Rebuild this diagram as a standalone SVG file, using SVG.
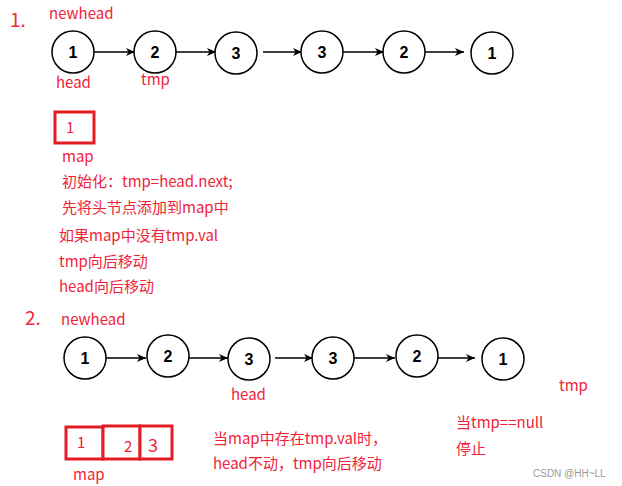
<svg xmlns="http://www.w3.org/2000/svg" width="622" height="486" viewBox="0 0 622 486">
<style>
.node circle{fill:#fff;stroke:#000;stroke-width:1.5}
.node text{font-family:"Liberation Sans",Arial,sans-serif;font-weight:bold;font-size:16px;fill:#000;text-anchor:middle}
.edge{stroke:#000;stroke-width:1.3;fill:none;marker-end:url(#arr)}
.lbl{font-family:"Noto Sans CJK SC","Microsoft YaHei",sans-serif;font-size:15px;fill:#f0223a}
.num{font-family:"Noto Sans CJK SC",sans-serif;font-size:19px;fill:#f2283a}
.box{fill:#fff;stroke:#e41d25;stroke-width:3}
.wm{font-family:"Liberation Sans",Arial,sans-serif;font-size:10px;fill:#9a9a9a}
</style>
<defs>
<marker id="arr" markerWidth="10" markerHeight="8" refX="9" refY="4" orient="auto" markerUnits="userSpaceOnUse">
<path d="M0,0 L9,4 L0,8 L2.5,4 Z" fill="#000"/>
</marker>
</defs>
<g id="connectors">
<line class="edge" x1="94" y1="52" x2="135" y2="52"/>
<line class="edge" x1="176" y1="52" x2="216" y2="52"/>
<line class="edge" x1="263" y1="52" x2="302" y2="52"/>
<line class="edge" x1="343" y1="52" x2="384" y2="52"/>
<line class="edge" x1="425" y1="52" x2="464" y2="52"/>
<line class="edge" x1="106" y1="358" x2="146" y2="358"/>
<line class="edge" x1="189" y1="358" x2="228" y2="358"/>
<line class="edge" x1="275" y1="358" x2="313" y2="358"/>
<line class="edge" x1="354" y1="358" x2="395" y2="358"/>
<line class="edge" x1="437" y1="358" x2="475" y2="358"/>
</g>
<g id="r1n1" class="node"><circle cx="73" cy="52" r="21"/><text x="73" y="58">1</text></g>
<g id="r1n2" class="node"><circle cx="155" cy="52" r="21"/><text x="155" y="58">2</text></g>
<g id="r1n3" class="node"><circle cx="236" cy="53" r="21"/><text x="236" y="59">3</text></g>
<g id="r1n4" class="node"><circle cx="322" cy="52" r="21"/><text x="322" y="58">3</text></g>
<g id="r1n5" class="node"><circle cx="404" cy="52" r="21"/><text x="404" y="58">2</text></g>
<g id="r1n6" class="node"><circle cx="492" cy="53" r="21"/><text x="492" y="59">1</text></g>

<g id="r2n1" class="node"><circle cx="85" cy="358" r="21"/><text x="85" y="364">1</text></g>
<g id="r2n2" class="node"><circle cx="168" cy="356" r="21"/><text x="168" y="362">2</text></g>
<g id="r2n3" class="node"><circle cx="249" cy="359" r="21"/><text x="249" y="365">3</text></g>
<g id="r2n4" class="node"><circle cx="333" cy="358" r="21"/><text x="333" y="364">3</text></g>
<g id="r2n5" class="node"><circle cx="417" cy="356" r="21"/><text x="417" y="362">2</text></g>
<g id="r2n6" class="node"><circle cx="503" cy="359" r="21"/><text x="503" y="365">1</text></g>

<g id="labels1">
<text class="num" x="10" y="27">1.</text>
<text class="lbl" x="49" y="19">newhead</text>
<text class="lbl" x="56" y="88">head</text>
<text class="lbl" x="141" y="85">tmp</text>
</g>
<g id="map1">
<rect class="box" x="55" y="112" width="39" height="31"/>
<text class="lbl" x="66" y="133">1</text>
<text class="lbl" x="62" y="162">map</text>
</g>
<g id="notes1">
<text class="lbl" x="62" y="187">初始化：tmp=head.next;</text>
<text class="lbl" x="62" y="213">先将头节点添加到map中</text>
<text class="lbl" x="59" y="241">如果map中没有tmp.val</text>
<text class="lbl" x="59" y="267">tmp向后移动</text>
<text class="lbl" x="59" y="292">head向后移动</text>
</g>
<g id="labels2">
<text class="num" x="25" y="325">2.</text>
<text class="lbl" x="61" y="325">newhead</text>
<text class="lbl" x="231" y="400">head</text>
<text class="lbl" x="559" y="391">tmp</text>
</g>
<g id="map2">
<rect class="box" x="66" y="427" width="37" height="32"/>
<rect class="box" x="103" y="426" width="37" height="33"/>
<rect class="box" x="140" y="426" width="32" height="33"/>
<text class="lbl" x="77" y="448">1</text>
<text class="lbl" x="124" y="452">2</text>
<text class="lbl" x="148" y="452" style="font-size:18px">3</text>
<text class="lbl" x="73" y="480">map</text>
</g>
<g id="notes2">
<text class="lbl" x="213" y="444">当map中存在tmp.val时，</text>
<text class="lbl" x="213" y="469">head不动，tmp向后移动</text>
<text class="lbl" x="456" y="428">当tmp==null</text>
<text class="lbl" x="456" y="454">停止</text>
</g>
<text class="wm" x="533" y="477">CSDN @HH~LL</text>
</svg>
